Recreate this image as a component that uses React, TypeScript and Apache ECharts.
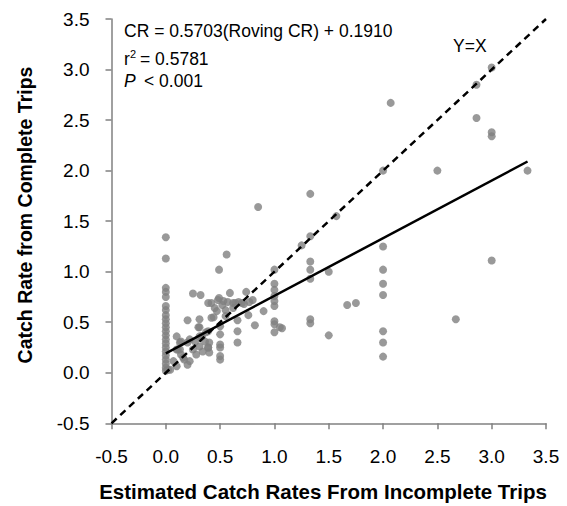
import React, { useEffect, useRef } from "react";
import * as echarts from "echarts";

// Roving (incomplete-trip) catch rates vs. complete-trip catch rates
const roving: number[] = [
  // x = 0 column
  0, 0, 0, 0, 0, 0, 0, 0, 0, 0, 0, 0, 0, 0, 0, 0, 0, 0, 0, 0, 0, 0,
  // low cluster
  0.02, 0.07, 0.1, 0.1, 0.13, 0.13, 0.16, 0.2, 0.22, 0.22, 0.25, 0.28, 0.31, 0.31, 0.34, 0.37, 0.4, 0.4, 0.11, 0.14, 0.2, 0.27, 0.33, 0.39, 0.17,
  0.14, 0.36, 0.39, 0.1, 0.04, 0.33, 0.3, 0.39, 0.42,
  // x = 0.5 column
  0.5, 0.5, 0.5, 0.5, 0.5, 0.5,
  // middle band
  0.2, 0.31, 0.31, 0.44, 0.42, 0.48, 0.52, 0.57, 0.62, 0.67, 0.72, 0.77, 0.8, 0.45, 0.55, 0.62,
  0.47, 0.53, 0.64, 0.7,
  0.25, 0.32, 0.39, 0.49, 0.59, 0.74, 0.55, 0.49,
  0.66, 0.66, 0.66, 0.76, 0.82, 0.9,
  // x = 1.0 column
  1.0, 1.0, 1.0, 1.0, 1.0, 1.0, 1.0, 1.0, 1.0, 1.05, 1.07,
  0.85, 0.56,
  // 1.25 - 1.75
  1.33, 1.57, 1.33, 1.25, 1.33, 1.33, 1.5, 1.33, 1.67, 1.75, 1.33, 1.33, 1.5,
  // x = 2.0 and beyond
  2.07, 2.0, 2.0, 2.0, 2.0, 2.0, 2.0, 2.0, 2.0,
  2.5, 2.67, 2.86, 2.86, 3.0, 3.0, 3.0, 3.0, 3.33,
];

const complete: number[] = [
  1.34, 1.13, 0.84, 0.8, 0.75, 0.66, 0.62, 0.57, 0.53, 0.49, 0.45, 0.41, 0.37, 0.33, 0.29, 0.25, 0.21, 0.17, 0.13, 0.09, 0.05, 0.02,
  0.03, 0.115, 0.36, 0.065, 0.3, 0.23, 0.15, 0.08, 0.33, 0.115, 0.23, 0.18, 0.36, 0.26, 0.21, 0.4, 0.3, 0.2, 0.23, 0.18, 0.3, 0.31, 0.36, 0.25, 0.13,
  0.31, 0.31, 0.25, 0.23, 0.03, 0.36, 0.45, 0.41, 0.545,
  0.46, 0.38, 0.28, 0.25, 0.165, 0.13,
  0.52, 0.53, 0.45, 0.55, 0.69, 0.72, 0.67, 0.7, 0.69, 0.7, 0.68, 0.7, 0.72, 0.64, 0.62, 0.64,
  0.61, 0.71, 0.69, 0.69,
  0.785, 0.77, 0.69, 0.74, 0.79, 0.8, 0.56, 1.02,
  0.52, 0.41, 0.3, 0.57, 0.47, 0.61,
  1.02, 0.88, 0.82, 0.76, 0.71, 0.66, 0.51, 0.48, 0.4, 0.45, 0.44,
  1.64, 1.17,
  1.77, 1.55, 1.35, 1.26, 1.1, 1.02, 1.0, 0.93, 0.67, 0.69, 0.53, 0.49, 0.37,
  2.67, 2.0, 1.25, 1.02, 0.88, 0.77, 0.41, 0.3, 0.16,
  2.0, 0.53, 2.85, 2.52, 3.02, 2.38, 2.34, 1.11, 2.0,
];

// Fitted regression: CR = slope * (Roving CR) + intercept
const slope = 0.5703;
const intercept = 0.191;
const fitRange: number[] = [0, 3.33];
const identityRange: number[] = [-0.5, 3.5];

const axisTicks: number[] = [-0.5, 0, 0.5, 1, 1.5, 2, 2.5, 3, 3.5];

const FONT = "'Liberation Sans', Arial, Helvetica, sans-serif";

export default function App() {
  const ref = useRef<HTMLDivElement>(null);

  useEffect(() => {
    document.body.style.margin = "0";
    if (!ref.current) return;
    const chart = echarts.init(ref.current, undefined, { renderer: "svg" });

    const points = roving.map((x, i) => [x, complete[i]]);
    const fitLine = fitRange.map((x) => [x, slope * x + intercept]);
    const identity = identityRange.map((x) => [x, x]);

    const axisCommon = {
      type: "value" as const,
      min: axisTicks[0],
      max: axisTicks[axisTicks.length - 1],
      interval: 0.5,
      splitLine: { show: false },
      axisLine: { show: true, onZero: false, lineStyle: { color: "#808080", width: 1.5 } },
      axisTick: { show: true, inside: false, length: 6, lineStyle: { color: "#808080", width: 1.5 } },
      axisLabel: {
        color: "#000",
        fontFamily: FONT,
        fontSize: 19,
        formatter: (v: number) => v.toFixed(1),
      },
    };

    chart.setOption({
      animation: false,
      backgroundColor: "#fff",
      grid: { left: 111.5, right: 21, top: 19, bottom: 82.7, containLabel: false },
      xAxis: { ...axisCommon, axisLabel: { ...axisCommon.axisLabel, margin: 24 } },
      yAxis: { ...axisCommon, axisLabel: { ...axisCommon.axisLabel, margin: 22 } },
      series: [
        {
          type: "scatter",
          data: points,
          symbol: "circle",
          symbolSize: 8,
          itemStyle: { color: "#808080" },
          z: 2,
        },
        {
          type: "line",
          data: identity,
          showSymbol: false,
          lineStyle: { color: "#000", width: 2.5, type: [7, 5] },
          z: 3,
        },
        {
          type: "line",
          data: fitLine,
          showSymbol: false,
          lineStyle: { color: "#000", width: 2.5 },
          z: 3,
        },
      ],
      graphic: [
        {
          type: "text",
          left: 124,
          top: 22,
          style: { text: "CR = 0.5703(Roving CR) + 0.1910", font: `17.5px ${FONT}`, fill: "#000" },
        },
        {
          type: "text",
          left: 124,
          top: 50,
          style: { text: "r", font: `17.5px ${FONT}`, fill: "#000" },
        },
        {
          type: "text",
          left: 130,
          top: 48,
          style: { text: "2", font: `11px ${FONT}`, fill: "#000" },
        },
        {
          type: "text",
          left: 140,
          top: 50,
          style: { text: "= 0.5781", font: `17.5px ${FONT}`, fill: "#000" },
        },
        {
          type: "text",
          left: 124,
          top: 72,
          style: { text: "P", font: `italic 17.5px ${FONT}`, fill: "#000" },
        },
        {
          type: "text",
          left: 144,
          top: 72,
          style: { text: "< 0.001", font: `17.5px ${FONT}`, fill: "#000" },
        },
        {
          type: "text",
          left: 453,
          top: 37,
          style: { text: "Y=X", font: `17.5px ${FONT}`, fill: "#000" },
        },
        {
          type: "text",
          x: 25,
          y: 215,
          rotation: Math.PI / 2,
          style: {
            text: "Catch Rate from Complete Trips",
            font: `bold 19.5px ${FONT}`,
            fill: "#000",
            align: "center",
            verticalAlign: "middle",
          },
        },
        {
          type: "text",
          x: 323,
          y: 491,
          style: {
            text: "Estimated Catch Rates From Incomplete Trips",
            font: `bold 20.5px ${FONT}`,
            fill: "#000",
            align: "center",
            verticalAlign: "middle",
          },
        },
      ],
    });

    return () => chart.dispose();
  }, []);

  return <div ref={ref} style={{ width: 567, height: 506 }} />;
}
